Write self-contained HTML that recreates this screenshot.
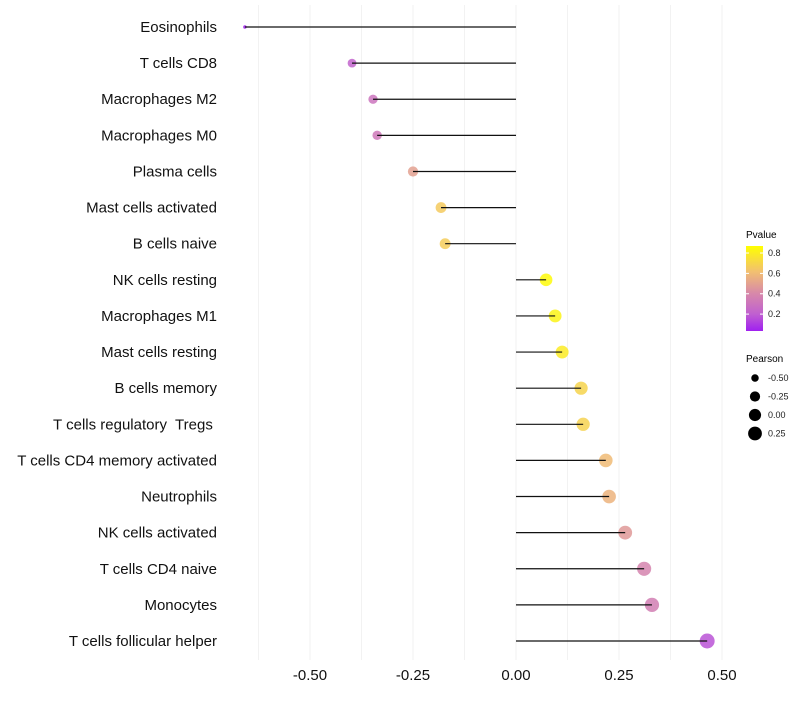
<!DOCTYPE html>
<html><head><meta charset="utf-8"><style>
body{margin:0;background:#fff;font-family:"Liberation Sans",sans-serif}
svg text{font-family:"Liberation Sans",sans-serif;white-space:pre}
</style></head><body>
<svg id="chart" width="800" height="700" xmlns="http://www.w3.org/2000/svg">
<defs><linearGradient id="pg" x1="0" y1="1" x2="0" y2="0">
<stop offset="0" stop-color="#a020f0"/><stop offset="0.2" stop-color="#c060d0"/><stop offset="0.45" stop-color="#d88aa8"/><stop offset="0.7" stop-color="#f2c070"/><stop offset="1" stop-color="#ffff00"/></linearGradient></defs>
<g id="grid"></g>
<g id="marks"></g>
<g id="ylab"></g>
<g id="xlab"></g>
<g>
<text x="746" y="238" font-size="10" fill="#000">Pvalue</text>
<rect x="746" y="246" width="17" height="85" fill="url(#pg)"/>
<g id="pleg"></g>
</g>
<g>
<text x="746" y="362" font-size="10" fill="#000">Pearson</text>
<g id="sleg"></g>
</g>
</svg>
<script>
const categories=["Eosinophils","T cells CD8","Macrophages M2","Macrophages M0","Plasma cells","Mast cells activated","B cells naive","NK cells resting","Macrophages M1","Mast cells resting","B cells memory","T cells regulatory  Tregs ","T cells CD4 memory activated","Neutrophils","NK cells activated","T cells CD4 naive","Monocytes","T cells follicular helper"];
const pearson=[-0.658,-0.398,-0.347,-0.337,-0.25,-0.182,-0.172,0.073,0.095,0.112,0.158,0.163,0.218,0.226,0.265,0.311,0.330,0.464];
const pvalue=[0.03,0.22,0.3,0.32,0.5,0.66,0.67,0.85,0.82,0.79,0.7,0.69,0.6,0.57,0.47,0.38,0.35,0.17];
const xTicks=[-0.5,-0.25,0,0.25,0.5];
const xTickLabels=["-0.50","-0.25","0.00","0.25","0.50"];
const pTicks=[0.2,0.4,0.6,0.8];
const sizeTicks=[-0.5,-0.25,0,0.25];
const sizeTickLabels=["-0.50","-0.25","0.00","0.25"];
const NS="http://www.w3.org/2000/svg";
const X=v=>516+v*412;
const Y=i=>27+i*(614/17);
const vmin=-0.66,vmax=0.47;
const R=v=>1.5+6*Math.sqrt(Math.max(0,(v-vmin)/(vmax-vmin)));
const stops=[[0.034,[160,32,240]],[0.2,[192,96,208]],[0.41,[216,138,168]],[0.62,[242,192,112]],[0.869,[255,255,0]]];
function col(p){if(p<=stops[0][0])return `rgb(${stops[0][1]})`;for(let k=1;k<stops.length;k++){if(p<=stops[k][0]){const a=stops[k-1],b=stops[k],t=(p-a[0])/(b[0]-a[0]);return `rgb(${a[1].map((c,j)=>Math.round(c+(b[1][j]-c)*t))})`;}}return `rgb(${stops[stops.length-1][1]})`;}
function mk(tag,at,parent){const e=document.createElementNS(NS,tag);for(const k in at)e.setAttribute(k,at[k]);document.getElementById(parent).appendChild(e);return e;}
for(let g=-0.625;g<=0.55;g+=0.125){const l=mk('line',{x1:X(g),x2:X(g),y1:5,y2:660,stroke:'#f2f2f2','stroke-width':1},'grid');

}
categories.forEach((c,i)=>{
const d=mk('circle',{cx:X(pearson[i]),cy:Y(i),r:R(pearson[i]),fill:col(pvalue[i]),'fill-opacity':0.85},'marks');


const l=mk('line',{x1:X(0),x2:X(pearson[i]),y1:Y(i),y2:Y(i),stroke:'#111','stroke-width':1.2},'marks');


const t=mk('text',{x:217,y:Y(i)+5,'text-anchor':'end','font-size':15,fill:'#111'},'ylab');t.textContent=c;


});
xTicks.forEach((v,i)=>{const t=mk('text',{x:X(v),y:680,'text-anchor':'middle','font-size':15,fill:'#111'},'xlab');t.textContent=xTickLabels[i];

});
const PY=p=>246+(0.869-p)/(0.869-0.034)*85;
pTicks.forEach(p=>{const y=PY(p);
const l=mk('line',{x1:746,x2:749,y1:y,y2:y,stroke:'#fff'},'pleg');
const l2=mk('line',{x1:760,x2:763,y1:y,y2:y,stroke:'#fff'},'pleg');
const t=mk('text',{x:768,y:y+3,'font-size':9,fill:'#222'},'pleg');t.textContent=p.toFixed(1);

});
sizeTicks.forEach((v,i)=>{const y=378+i*18.5;
const c=mk('circle',{cx:755,cy:y,r:R(v),fill:'#000'},'sleg');


const t=mk('text',{x:768,y:y+3,'font-size':9,fill:'#222'},'sleg');t.textContent=sizeTickLabels[i];

});
</script>
</body></html>
